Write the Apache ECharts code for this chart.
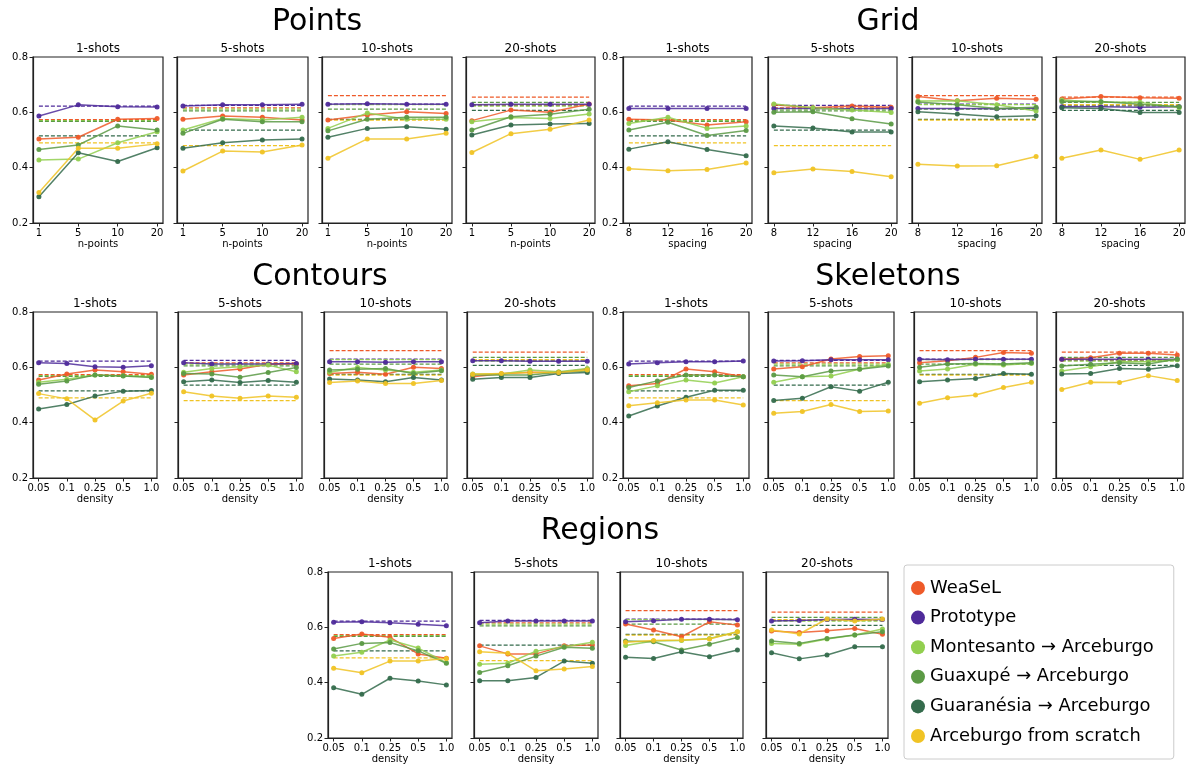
<!DOCTYPE html>
<html>
<head>
<meta charset="utf-8">
<script src="https://cdn.jsdelivr.net/npm/echarts@6/dist/echarts.min.js"></script>
<style>
html,body{margin:0;padding:0;background:#fff;}
#chart{width:1189px;height:764px;}
</style>
</head>
<body>
<div id="chart"></div>
<script>
// ---------- data ----------
const seriesNames = ['WeaSeL','Prototype','Montesanto → Arceburgo','Guaxupé → Arceburgo','Guaranésia → Arceburgo','Arceburgo from scratch'];
const shotTitles = ['1-shots','5-shots','10-shots','20-shots'];
const nPointsLabels = ['1','5','10','20'];
const spacingLabels = ['8','12','16','20'];
const densityLabels = ['0.05','0.1','0.25','0.5','1.0'];
const yTicks = [0.2,0.4,0.6,0.8];

// dashed reference levels per shot setting (series order as seriesNames)
const baseline1  = [0.574,0.622,0.570,0.567,0.515,0.490];
const baseline5  = [0.616,0.625,0.612,0.605,0.536,0.480];
const baseline10 = [0.660,0.630,0.628,0.612,0.575,0.572];
const baseline20 = [0.655,0.625,0.622,0.636,0.607,0.628];

const points1 = [
 [0.504,0.510,0.575,0.578],
 [0.587,0.627,0.620,0.619],
 [0.428,0.431,0.490,0.530],
 [0.466,0.482,0.551,0.536],
 [0.295,0.454,0.422,0.472],
 [0.310,0.470,0.470,0.486]];
const points5 = [
 [0.575,0.587,0.582,0.572],
 [0.623,0.627,0.627,0.629],
 [0.536,0.578,0.572,0.582],
 [0.524,0.575,0.566,0.566],
 [0.470,0.490,0.500,0.504],
 [0.388,0.460,0.457,0.482]];
const points10 = [
 [0.572,0.590,0.602,0.596],
 [0.629,0.631,0.629,0.629],
 [0.542,0.598,0.575,0.575],
 [0.533,0.575,0.582,0.582],
 [0.510,0.542,0.548,0.539],
 [0.434,0.504,0.504,0.524]];
const points20 = [
 [0.570,0.608,0.600,0.630],
 [0.627,0.629,0.629,0.629],
 [0.566,0.581,0.578,0.594],
 [0.536,0.584,0.593,0.611],
 [0.518,0.554,0.558,0.560],
 [0.455,0.523,0.539,0.572]];
const grid1 = [
 [0.575,0.572,0.554,0.566],
 [0.614,0.614,0.614,0.614],
 [0.560,0.582,0.542,0.551],
 [0.536,0.564,0.516,0.534],
 [0.467,0.494,0.466,0.443],
 [0.396,0.389,0.393,0.417]];
const grid5 = [
 [0.627,0.617,0.623,0.618],
 [0.614,0.614,0.613,0.614],
 [0.630,0.617,0.608,0.599],
 [0.600,0.602,0.577,0.558],
 [0.551,0.543,0.529,0.529],
 [0.382,0.395,0.386,0.367]];
const grid10 = [
 [0.657,0.642,0.651,0.647],
 [0.614,0.614,0.613,0.615],
 [0.641,0.642,0.627,0.605],
 [0.637,0.627,0.614,0.618],
 [0.602,0.594,0.584,0.588],
 [0.412,0.406,0.407,0.440]];
const grid20 = [
 [0.648,0.657,0.653,0.651],
 [0.620,0.620,0.618,0.620],
 [0.645,0.636,0.636,0.617],
 [0.639,0.639,0.629,0.620],
 [0.617,0.614,0.599,0.599],
 [0.434,0.464,0.430,0.464]];
const contours1 = [
 [0.554,0.576,0.590,0.584,0.575],
 [0.617,0.614,0.602,0.600,0.606],
 [0.546,0.557,0.572,0.570,0.566],
 [0.539,0.551,0.572,0.569,0.563],
 [0.449,0.466,0.496,0.514,0.516],
 [0.505,0.486,0.410,0.478,0.506]];
const contours5 = [
 [0.572,0.584,0.594,0.611,0.612],
 [0.617,0.612,0.612,0.612,0.614],
 [0.582,0.596,0.602,0.608,0.584],
 [0.578,0.576,0.564,0.581,0.599],
 [0.548,0.554,0.545,0.552,0.546],
 [0.512,0.496,0.488,0.496,0.492]];
const contours10 = [
 [0.578,0.582,0.575,0.600,0.596],
 [0.620,0.620,0.618,0.620,0.620],
 [0.582,0.599,0.590,0.582,0.590],
 [0.590,0.593,0.596,0.578,0.588],
 [0.558,0.554,0.548,0.563,0.554],
 [0.545,0.551,0.542,0.542,0.552]];
const contours20 = [
 [0.566,0.577,0.582,0.581,0.594],
 [0.624,0.624,0.622,0.622,0.622],
 [0.576,0.576,0.590,0.584,0.596],
 [0.572,0.572,0.572,0.582,0.587],
 [0.557,0.563,0.563,0.578,0.581],
 [0.575,0.578,0.581,0.581,0.590]];
const skeletons1 = [
 [0.533,0.542,0.594,0.584,0.566],
 [0.612,0.617,0.620,0.620,0.623],
 [0.512,0.533,0.554,0.543,0.566],
 [0.527,0.551,0.572,0.572,0.566],
 [0.424,0.460,0.492,0.517,0.517],
 [0.461,0.472,0.482,0.482,0.464]];
const skeletons5 = [
 [0.594,0.602,0.630,0.639,0.642],
 [0.623,0.624,0.627,0.627,0.627],
 [0.546,0.566,0.569,0.594,0.611],
 [0.572,0.566,0.587,0.593,0.605],
 [0.480,0.488,0.530,0.514,0.546],
 [0.434,0.440,0.466,0.440,0.442]];
const skeletons10 = [
 [0.617,0.624,0.636,0.654,0.651],
 [0.629,0.627,0.629,0.629,0.629],
 [0.587,0.594,0.611,0.608,0.614],
 [0.600,0.612,0.614,0.612,0.617],
 [0.548,0.554,0.560,0.578,0.575],
 [0.470,0.490,0.500,0.527,0.546]];
const skeletons20 = [
 [0.629,0.635,0.651,0.651,0.645],
 [0.629,0.629,0.629,0.629,0.629],
 [0.587,0.602,0.620,0.620,0.627],
 [0.605,0.611,0.617,0.612,0.630],
 [0.576,0.578,0.596,0.593,0.606],
 [0.520,0.546,0.545,0.570,0.552]];
const regions1 = [
 [0.560,0.576,0.564,0.504,0.488],
 [0.618,0.620,0.617,0.611,0.606],
 [0.496,0.510,0.554,0.525,0.472],
 [0.522,0.542,0.545,0.515,0.470],
 [0.382,0.358,0.416,0.406,0.392],
 [0.452,0.436,0.478,0.478,0.487]];
const regions5 = [
 [0.533,0.504,0.504,0.533,0.536],
 [0.617,0.623,0.623,0.623,0.623],
 [0.467,0.470,0.514,0.530,0.546],
 [0.437,0.461,0.496,0.528,0.524],
 [0.407,0.407,0.419,0.478,0.470],
 [0.512,0.506,0.443,0.449,0.458]];
const regions10 = [
 [0.612,0.590,0.566,0.620,0.608],
 [0.620,0.624,0.629,0.629,0.627],
 [0.534,0.551,0.552,0.560,0.584],
 [0.551,0.548,0.518,0.539,0.563],
 [0.492,0.487,0.512,0.494,0.518],
 [0.546,0.552,0.554,0.558,0.584]];
const regions20 = [
 [0.587,0.581,0.588,0.596,0.575],
 [0.623,0.625,0.628,0.629,0.628],
 [0.542,0.539,0.558,0.572,0.594],
 [0.551,0.542,0.560,0.572,0.584],
 [0.508,0.486,0.500,0.530,0.530],
 [0.590,0.576,0.630,0.623,0.630]];

// ---------- styles & layout ----------
const colors = ['#ee5a29','#4e2a9a','#92cf4f','#5b9a45','#346b4c','#f0c324'];
const baselines = [baseline1, baseline5, baseline10, baseline20];
const FONT = 'DejaVu Sans';

const groups = [
 {title:'Points', tx:317, ty:22, data:[points1,points5,points10,points20], labels:nPointsLabels, xname:'n-points', top:57, bottom:223,
  xs:[[33,163],[177,308],[322,452],[466,595]]},
 {title:'Grid', tx:888, ty:22, data:[grid1,grid5,grid10,grid20], labels:spacingLabels, xname:'spacing', top:57, bottom:223,
  xs:[[623,752],[768,897],[912,1042],[1056,1185]]},
 {title:'Contours', tx:320, ty:277, data:[contours1,contours5,contours10,contours20], labels:densityLabels, xname:'density', top:312, bottom:478,
  xs:[[33,157],[178,302],[324,447],[467,593]]},
 {title:'Skeletons', tx:888, ty:277, data:[skeletons1,skeletons5,skeletons10,skeletons20], labels:densityLabels, xname:'density', top:312, bottom:478,
  xs:[[623,749],[768,894],[914,1037],[1056,1183]]},
 {title:'Regions', tx:600, ty:531, data:[regions1,regions5,regions10,regions20], labels:densityLabels, xname:'density', top:572, bottom:738,
  xs:[[328,452],[474,598],[620,743],[766,888]]}
];

const grids = [], xAxes = [], yAxes = [], series = [], graphics = [];
let k = 0;
groups.forEach(g => {
  graphics.push({type:'text', x:g.tx, y:g.ty, style:{text:g.title, font:'30px "DejaVu Sans"', fill:'#000', align:'center', verticalAlign:'middle'}});
  g.data.forEach((panel, p) => {
    const [l, r] = g.xs[p];
    const n = g.labels.length;
    const pad = (n - 1) * 0.05;
    const idx = g.labels.map((_, i) => i);
    grids.push({left:l, top:g.top, width:r - l, height:g.bottom - g.top, show:true, borderColor:'#222', borderWidth:1.2, backgroundColor:'transparent', containLabel:false, outerBoundsMode:'none'});
    graphics.push({type:'text', x:(l + r) / 2, y:g.top - 8, style:{text:shotTitles[p], font:'12px "DejaVu Sans"', fill:'#000', align:'center', verticalAlign:'middle'}});
    const labels = g.labels;
    xAxes.push({gridIndex:k, type:'value', min:-pad, max:n - 1 + pad,
      splitLine:{show:false},
      axisLine:{show:true, onZero:false, lineStyle:{color:'#222', width:1.2}},
      axisTick:{show:true, customValues:idx, length:3.5, lineStyle:{color:'#222', width:1}},
      axisLabel:{show:true, customValues:idx, formatter:v => labels[Math.round(v)], fontSize:10, color:'#000', margin:5, fontFamily:FONT},
      name:g.xname, nameLocation:'middle', nameGap:16, nameTextStyle:{fontSize:10, color:'#000', fontFamily:FONT}});
    yAxes.push({gridIndex:k, type:'value', min:0.2, max:0.8, interval:0.2,
      splitLine:{show:false},
      axisLine:{show:true, onZero:false, lineStyle:{color:'#222', width:1.2}},
      axisTick:{show:true, length:3.5, lineStyle:{color:'#222', width:1}},
      axisLabel:{show:p === 0, formatter:v => v.toFixed(1), fontSize:10, color:'#000', margin:5, fontFamily:FONT}});
    const base = baselines[p];
    // dashed reference lines
    seriesNames.forEach((name, s) => {
      series.push({type:'line', name:name, xAxisIndex:k, yAxisIndex:k, data:[[0, base[s]], [n - 1, base[s]]],
        symbol:'none', silent:true, z:2, animation:false,
        lineStyle:{color:colors[s], width:1.25, type:[4, 2], opacity:1}});
    });
    // solid lines with markers
    seriesNames.forEach((name, s) => {
      series.push({type:'line', name:name, xAxisIndex:k, yAxisIndex:k,
        data:panel[s].map((v, i) => [i, v]),
        symbol:'circle', symbolSize:5, showSymbol:true, z:3, animation:false,
        itemStyle:{color:colors[s], opacity:0.95},
        lineStyle:{color:colors[s], width:1.5, opacity:0.85}});
    });
    k++;
  });
});

const chart = echarts.init(document.getElementById('chart'), null, {renderer:'canvas'});
chart.setOption({
  backgroundColor:'#fff',
  animation:false,
  textStyle:{fontFamily:FONT},
  grid:grids, xAxis:xAxes, yAxis:yAxes, series:series,
  graphic:graphics,
  legend:{orient:'vertical', left:904, top:565,
    data:seriesNames.map((nm, i) => ({name:nm, icon:'circle', itemStyle:{color:colors[i], opacity:1}})),
    itemWidth:14, itemHeight:14, itemGap:11.6,
    textStyle:{fontSize:17.9, color:'#000', fontFamily:FONT},
    borderColor:'#cccccc', borderWidth:1, borderRadius:3, padding:[14,20,14,7], backgroundColor:'#fff'}
});
</script>
</body>
</html>
